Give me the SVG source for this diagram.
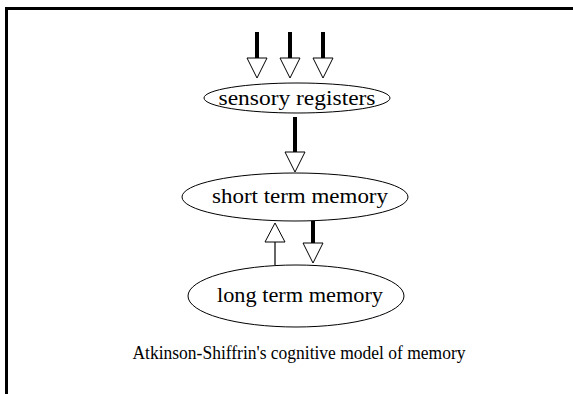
<svg xmlns="http://www.w3.org/2000/svg" width="573" height="394" viewBox="0 0 573 394">
  <style>
    .node ellipse { fill: #ffffff; stroke: #000000; stroke-width: 1; }
    .thick { stroke: #000000; stroke-width: 4; fill: none; }
    .thin { stroke: #000000; stroke-width: 1.2; fill: none; }
    .head { fill: #ffffff; stroke: #000000; stroke-width: 1; }
  </style>
  <rect x="0" y="0" width="573" height="394" fill="#ffffff"/>
  <!-- frame: top and left edges -->
  <path d="M6.5,400 V8.5 H580" fill="none" stroke="#000000" stroke-width="3"/>

  <g id="connectors">
    <!-- three inputs into sensory registers -->
    <line class="thick" x1="257" y1="32" x2="257" y2="58"/>
    <polygon class="head" points="247,58 267,58 257,78"/>
    <line class="thick" x1="290" y1="32" x2="290" y2="58"/>
    <polygon class="head" points="280,58 300,58 290,78"/>
    <line class="thick" x1="323" y1="32" x2="323" y2="58"/>
    <polygon class="head" points="313,58 333,58 323,78"/>
    <!-- sensory registers to short term memory -->
    <line class="thick" x1="295" y1="117" x2="295" y2="152"/>
    <polygon class="head" points="285,152 305,152 295,172"/>
    <!-- long term memory to short term memory -->
    <line class="thin" x1="275" y1="242" x2="275" y2="265"/>
    <polygon class="head" points="265,242 285,242 275,223"/>
    <!-- short term memory to long term memory -->
    <line class="thick" x1="313" y1="221" x2="313" y2="243"/>
    <polygon class="head" points="303,243 323,243 313,263"/>
  </g>

  <g font-family="'Liberation Serif', 'DejaVu Serif', serif" fill="#000000" text-anchor="middle">
    <g id="sensory-registers" class="node">
      <ellipse cx="297" cy="98" rx="93" ry="15"/>
      <text x="297" y="105" font-size="20" textLength="157" lengthAdjust="spacingAndGlyphs">sensory registers</text>
    </g>
    <g id="short-term-memory" class="node">
      <ellipse cx="295" cy="197" rx="113" ry="24"/>
      <text x="300" y="203" font-size="20" textLength="176" lengthAdjust="spacingAndGlyphs">short term memory</text>
    </g>
    <g id="long-term-memory" class="node">
      <ellipse cx="296" cy="296" rx="108" ry="31"/>
      <text x="300" y="302" font-size="20" textLength="166" lengthAdjust="spacingAndGlyphs">long term memory</text>
    </g>
    <text x="299" y="359" font-size="18" textLength="333" lengthAdjust="spacingAndGlyphs">Atkinson-Shiffrin's cognitive model of memory</text>
  </g>
</svg>
